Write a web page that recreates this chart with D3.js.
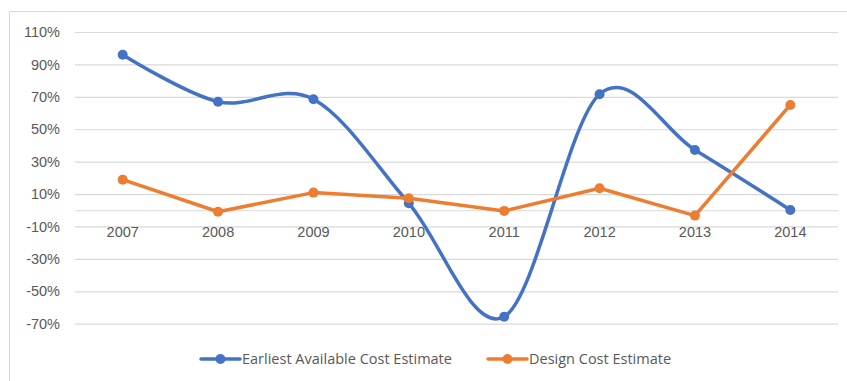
<!DOCTYPE html>
<html>
<head>
<meta charset="utf-8">
<script src="https://cdn.jsdelivr.net/npm/d3@7"></script>
<style>
  html, body { margin: 0; padding: 0; background: #fff; }
  svg { display: block; font-family: "Open Sans", "Noto Sans", sans-serif; }
</style>
</head>
<body>
<svg id="chart" width="847" height="381"></svg>
<script>
// Year categories and percentage change per series
const years = ["2007", "2008", "2009", "2010", "2011", "2012", "2013", "2014"];
const earliestEstimate = [96, 67, 68.5, 4.3, -65.7, 71.6, 37.2, 0.2];
const designEstimate = [18.9, -0.9, 10.9, 7.4, -0.4, 13.6, -3.3, 65];
const yTicks = [110, 90, 70, 50, 30, 10, -10, -30, -50, -70];
const seriesNames = ["Earliest Available Cost Estimate", "Design Cost Estimate"];

const colors = { blue: "#4472C4", orange: "#ED7D31", grid: "#d9d9d9", text: "#595959" };
const fontSize = "14.5px";

const svg = d3.select("#chart");

// chart frame
svg.append("path")
  .attr("d", "M9.5,381 V11.5 H847")
  .attr("fill", "none")
  .attr("stroke", colors.grid)
  .attr("stroke-width", 1);

const plot = { left: 75, right: 838, top: 32, bottom: 323.7 };

const x = d3.scaleBand().domain(years).range([plot.left, plot.right]);
const y = d3.scaleLinear().domain([-70, 110]).range([plot.bottom, plot.top]);

// horizontal gridlines + y labels
const yAxis = d3.axisLeft(y)
  .tickValues(yTicks)
  .tickSize(-(plot.right - plot.left))
  .tickPadding(15)
  .tickFormat(d => d + "%");

const gy = svg.append("g")
  .attr("transform", `translate(${plot.left},0)`)
  .call(yAxis);
gy.select(".domain").remove();
gy.selectAll(".tick line").attr("stroke", colors.grid).attr("stroke-width", 1.2);
gy.selectAll(".tick text")
  .attr("fill", colors.text)
  .style("font-size", fontSize);

// category axis along the zero line
const xAxis = d3.axisBottom(x).tickSize(0).tickPadding(16.5);
const gx = svg.append("g")
  .attr("transform", `translate(0,${y(0)})`)
  .call(xAxis);
gx.select(".domain").attr("stroke", colors.grid).attr("stroke-width", 1.2);
gx.selectAll(".tick text")
  .attr("fill", colors.text)
  .style("font-size", fontSize);

const cx = d => x(d) + x.bandwidth() / 2;

function drawSeries(values, color, curve) {
  const pts = values.map((v, i) => [cx(years[i]), y(v)]);
  svg.append("path")
    .attr("d", d3.line().curve(curve)(pts))
    .attr("fill", "none")
    .attr("stroke", color)
    .attr("stroke-width", 3.5)
    .attr("stroke-linejoin", "round")
    .attr("stroke-linecap", "round");
  svg.append("g").selectAll("circle")
    .data(pts)
    .join("circle")
    .attr("cx", d => d[0])
    .attr("cy", d => d[1])
    .attr("r", 5)
    .attr("fill", color);
}

drawSeries(earliestEstimate, colors.blue, d3.curveCardinal.tension(0));
drawSeries(designEstimate, colors.orange, d3.curveLinear);

// legend
const legendItems = [
  { name: seriesNames[0], color: colors.blue, x: 201 },
  { name: seriesNames[1], color: colors.orange, x: 488 }
];
const legendY = 359;
const lg = svg.append("g");
legendItems.forEach(item => {
  lg.append("line")
    .attr("x1", item.x).attr("x2", item.x + 39)
    .attr("y1", legendY).attr("y2", legendY)
    .attr("stroke", item.color).attr("stroke-width", 3.5)
    .attr("stroke-linecap", "round");
  lg.append("circle")
    .attr("cx", item.x + 19.5).attr("cy", legendY).attr("r", 5)
    .attr("fill", item.color);
  lg.append("text")
    .attr("x", item.x + 41).attr("y", legendY)
    .attr("dy", "0.35em")
    .attr("fill", colors.text)
    .style("font-size", fontSize)
    .text(item.name);
});
</script>
</body>
</html>
